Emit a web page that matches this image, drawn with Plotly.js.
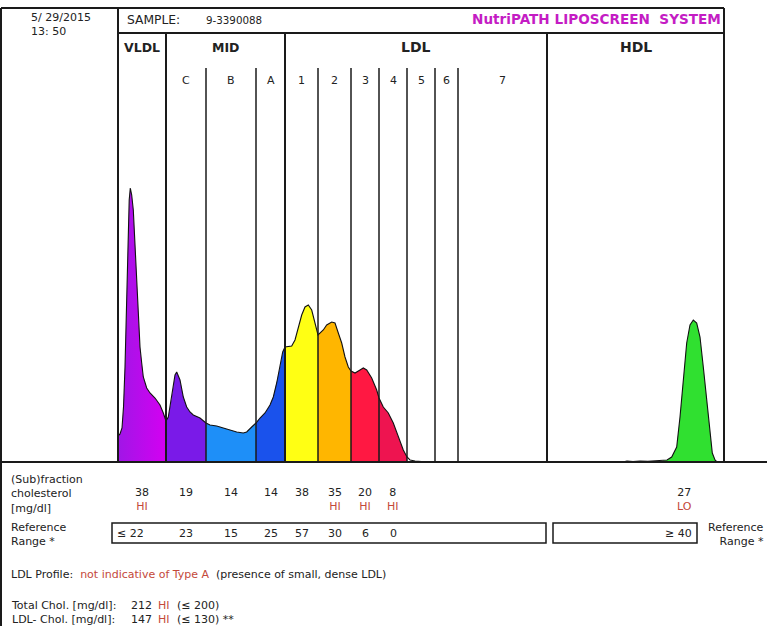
<!DOCTYPE html>
<html>
<head>
<meta charset="utf-8">
<script src="https://cdn.plot.ly/plotly-3.0.1.min.js"></script>
<style>html,body{margin:0;padding:0;background:#fff;}#chart{width:767px;height:626px;}</style>
</head>
<body>
<div id="chart"></div>
<script>
// ---------- DATA ----------
// Densitometric profile: migration position (chart units) and intensity (a.u.)
const mobility = [
  0, 2, 4, 5.5, 7, 8.5, 10, 11.2, 12.3, 13.7, 15.3, 17, 18.7, 20.3, 22, 23.7, 25.3, 28.7, 32, 37, 42, 45.3, 48,
  50.3, 53.7, 57, 58.7, 62, 65.3, 68.7, 72, 75.3, 82, 88,
  92, 98.7, 105.3, 112, 118.7, 125.3, 128.7, 133.7, 138,
  142, 147, 152, 155.3, 158.7, 162, 164.7, 167,
  173.7, 177, 180.3, 183.7, 187, 190.3, 193.7, 197, 200,
  205.3, 208.7, 213.7, 217, 220.3, 223.7, 227, 230.3, 233,
  237, 242, 245.3, 248.7, 253.7, 258.7, 261,
  265.3, 270.3, 275.3, 280.3, 285.3, 289,
  292, 297, 302, 310,
  505, 509, 515, 522, 530, 538, 545, 549, 553.7, 558.7, 562, 565.3, 568.7, 572, 575.3, 578.7, 582, 585.3, 588.7, 592, 594.3, 597, 599
];
const intensity = [
  26, 28, 34, 55, 95, 165, 230, 262, 274, 267, 252, 215, 175, 139, 115, 99, 85, 74, 69, 64, 57, 49, 41,
  45, 65, 87, 90, 82, 65, 55, 50, 47, 44, 39,
  37, 36, 34, 32, 30, 29, 30, 35, 39,
  44, 49, 57, 65, 79, 95, 110, 115,
  116, 122, 135, 147, 155, 157, 152, 139, 127,
  132, 137, 140, 139, 129, 119, 105, 95, 91,
  89, 92, 94, 92, 84, 72, 64,
  55, 49, 39, 25, 12, 5,
  2, 1, 0.5, 0,
  0, 1, 0.5, 1, 0.8, 1.2, 1.5, 2, 5, 15, 45, 85, 119, 137, 142, 139, 125, 95, 62, 29, 9, 2, 0
];

// Fraction boundaries along the migration axis
const boundaries = [0, 48, 88, 138, 167, 200, 233, 261, 289, 317, 340, 429, 606];
const majorBoundaries = [0, 48, 167, 429, 606];
const classNames = ['VLDL', 'MID', 'LDL', 'HDL'];
const classRanges = [[0, 48], [48, 167], [167, 429], [429, 606]];
const subLabels = ['C', 'B', 'A', '1', '2', '3', '4', '5', '6', '7'];

// Filled fractions
const fillNames  = ['VLDL', 'C', 'B', 'A', 'LDL1', 'LDL2', 'LDL3', 'LDL4', 'HDL'];
const fillRanges = [[0, 48], [48, 88], [88, 138], [138, 167], [167, 200], [200, 233], [233, 261], [261, 289], [545, 606]];
const fillColors = ['#b810ea', '#7a1ae8', '#1e8ff8', '#1a52ec', '#ffff14', '#ffb600', '#ff1842', '#ee1450', '#30e030'];

// Results table
const fractionValues = ['38', '19', '14', '14', '38', '35', '20', '8', '27'];
const fractionFlags  = ['HI', '', '', '', '', 'HI', 'HI', 'HI', 'LO'];
const refRanges      = ['\u2264 22', '23', '15', '25', '57', '30', '6', '0', '\u2265 40'];
const hdlValuePos = 566;

const sampleDate = '5/ 29/2015';
const sampleTime = '13: 50';
const sampleId = '9-3390088';
const ldlProfile = 'not indicative of Type A';
const ldlProfileNote = '(presence of small, dense LDL)';
const totalLabels = ['Total Chol. [mg/dl]:', 'LDL- Chol. [mg/dl]:'];
const totalValues = ['212', '147'];
const totalFlags  = ['HI', 'HI'];
const totalRefs   = ['(\u2264 200)', '(\u2264 130) **'];

// ---------- LAYOUT HELPERS ----------
const W = 767, H = 626;
const PX = x => x / W;
const PY = y => 1 - y / H;
const FONT = 'DejaVu Sans, Verdana, sans-serif';
const DARK = '#222';
const RED = '#c4483a';
const BODY = 11;
const red = s => '<span style="color:' + RED + '">' + s + '</span>';

const annotations = [];
function txt(x, y, text, o) {
  o = o || {};
  annotations.push({
    x: o.xref === 'x' ? x : PX(x), y: PY(y), xref: o.xref || 'paper', yref: 'paper',
    text: text, showarrow: false, xanchor: o.anchor || 'left', yanchor: o.yanchor || 'middle',
    align: o.align || (o.anchor === 'right' ? 'right' : (o.anchor === 'center' ? 'center' : 'left')),
    borderpad: 0,
    font: {family: FONT, size: o.size || BODY, color: o.color || DARK, weight: o.bold ? 'bold' : 'normal'}
  });
}
const shapes = [];
function line(x0, y0, x1, y1, w, xref) {
  shapes.push({type: 'line', xref: xref || 'paper', yref: 'paper',
    x0: xref === 'x' ? x0 : PX(x0), x1: xref === 'x' ? x1 : PX(x1), y0: PY(y0), y1: PY(y1),
    line: {color: '#1a1a1a', width: w || 1.5}});
}
function rect(x0, y0, x1, y1) {
  shapes.push({type: 'rect', xref: 'paper', yref: 'paper', x0: PX(x0), x1: PX(x1), y0: PY(y0), y1: PY(y1),
    line: {color: '#1a1a1a', width: 1.5}, fillcolor: 'rgba(0,0,0,0)'});
}

// ---------- TRACES ----------
const traces = [];
fillRanges.forEach((r, i) => {
  const xs = [], ys = [];
  mobility.forEach((m, k) => { if (m >= r[0] && m <= r[1]) { xs.push(m); ys.push(intensity[k]); } });
  const t = {x: xs, y: ys, type: 'scatter', mode: 'lines', name: fillNames[i],
    line: {width: 0, color: fillColors[i]}, fill: 'tozeroy', fillcolor: fillColors[i], hoverinfo: 'skip'};
  if (fillNames[i] === 'VLDL') {
    t.fillgradient = {type: 'horizontal', colorscale: [[0, '#a016e6'], [1, '#d400f2']]};
  }
  traces.push(t);
});
traces.push({x: mobility, y: intensity, type: 'scatter', mode: 'lines', name: 'profile',
  line: {color: '#111', width: 1.1}, hoverinfo: 'skip'});

// ---------- FRAME ----------
const BASE = 462, TOP = 33, FRAME_TOP = 8, SUB_TOP = 68;
const X0 = 118, X1 = 724;
line(1, FRAME_TOP, X1, FRAME_TOP, 2);          // top frame
line(1, FRAME_TOP, 1, H, 2);                   // left frame
line(X0, TOP, X1, TOP, 2);                     // under sample row
line(0, BASE, W, BASE, 2);                     // baseline
line(X0, FRAME_TOP, X0, BASE, 2);
line(X1, FRAME_TOP, X1, BASE, 2);
boundaries.forEach(b => {
  if (b === 0 || b === 606) return;
  const major = majorBoundaries.indexOf(b) >= 0;
  line(b, major ? TOP : SUB_TOP, b, BASE, major ? 2 : 1.5, 'x');
});
rect(112, 523, 546, 543);
rect(553, 523, 697, 543);

// ---------- TEXT ----------
txt(30, 10, sampleDate + '<br>' + sampleTime, {size: 11, yanchor: 'top'});
txt(126, 20, 'SAMPLE:', {size: 12.3});
txt(205, 20, sampleId, {size: 10.3});
txt(722, 19, 'NutriPATH LIPOSCREEN  SYSTEM', {anchor: 'right', size: 13.6, bold: true, color: '#c41cc4'});

classNames.forEach((n, i) => {
  const c = (classRanges[i][0] + classRanges[i][1]) / 2;
  txt(c, 47, n, {xref: 'x', anchor: 'center', size: (n === 'VLDL' || n === 'MID') ? 12.5 : 14, bold: true});
});
subLabels.forEach((s, i) => {
  const c = (boundaries[i + 1] + boundaries[i + 2]) / 2;
  txt(c, 80, s, {xref: 'x', anchor: 'center'});
});

txt(10, 472, '(Sub)fraction<br>cholesterol<br>[mg/dl]', {yanchor: 'top'});
txt(10, 520, 'Reference<br>Range *', {yanchor: 'top'});
txt(765, 520, 'Reference<br>Range *', {yanchor: 'top', anchor: 'right'});

fractionValues.forEach((v, i) => {
  const c = i < 8 ? (boundaries[i] + boundaries[i + 1]) / 2 : hdlValuePos;
  const t = fractionFlags[i] ? v + '<br>' + red(fractionFlags[i]) : v;
  txt(c, 485, t, {xref: 'x', anchor: 'center', yanchor: 'top'});
  if (i === 0) txt(116, 533, refRanges[i]);
  else if (i < 8) txt(c, 533, refRanges[i], {xref: 'x', anchor: 'center'});
  else txt(693, 533, refRanges[i], {anchor: 'right'});
});

txt(10, 574, 'LDL Profile:  ' + red(ldlProfile) + '  ' + ldlProfileNote);

txt(10, 598, totalLabels.join('<br>'), {yanchor: 'top'});
txt(130, 598, totalValues.join('<br>'), {yanchor: 'top'});
txt(157, 598, totalFlags.map(red).join('<br>'), {yanchor: 'top'});
txt(176, 598, totalRefs.join('<br>'), {yanchor: 'top'});

const layout = {
  width: W, height: H, margin: {l: 0, r: 0, t: 0, b: 0},
  paper_bgcolor: '#fff', plot_bgcolor: 'rgba(0,0,0,0)', showlegend: false,
  xaxis: {domain: [PX(X0), PX(X1)], range: [0, 606], visible: false, fixedrange: true},
  yaxis: {domain: [PY(BASE), PY(TOP)], range: [0, 429], visible: false, fixedrange: true},
  shapes: shapes, annotations: annotations
};
Plotly.newPlot('chart', traces, layout, {staticPlot: true, displayModeBar: false});
</script>
</body>
</html>
